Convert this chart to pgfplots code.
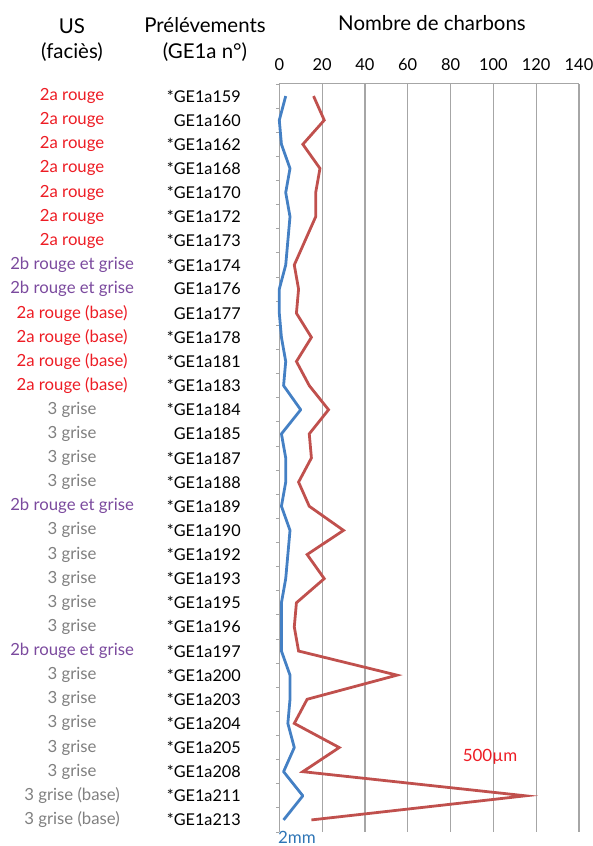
\documentclass[border=0pt]{standalone}
\usepackage{pgfplots}
\pgfplotsset{compat=1.18}
\usepackage{fontspec}
\setmainfont{Lato}
\definecolor{lred}{RGB}{237,28,36}
\definecolor{lpurple}{RGB}{123,74,158}
\definecolor{lgray}{RGB}{128,128,128}
\definecolor{sred}{RGB}{192,80,77}
\definecolor{sblue}{RGB}{68,128,196}
\definecolor{gridc}{RGB}{166,166,166}
\definecolor{tblue}{RGB}{46,117,182}
\newcommand{\US}[3]{\node[anchor=center,text=#2,font=\fontsize{16.8}{18}\selectfont] at (axis cs:-96.8,#1) {#3};}
\newcommand{\PR}[2]{\node[anchor=east,inner sep=0pt,text=black,font=\fontsize{16.3}{18}\selectfont] at (axis cs:-17.9,#1) {#2};}
\begin{document}
\begin{tikzpicture}
\path[use as bounding box] (0,0) rectangle (593bp,846bp);
\begin{axis}[
  at={(279.3bp,14bp)}, anchor=south west,
  scale only axis, width=299.7bp, height=748bp,
  xmin=0, xmax=140, ymin=0.5, ymax=31.5,
  clip=false,
  axis x line*=top, axis y line*=left,
  axis line style={draw=gridc, line width=1pt, -},
  xtick={0,20,...,140},
  xmajorgrids, grid style={gridc, line width=1.2pt},
  ytick={0.5,1.5,...,31.5}, yticklabels={},
  tick align=outside,
  x tick style={draw=none},
  y tick style={draw=gridc, line width=0.8pt},
  major tick length=3.5bp,
  /pgf/number format/assume math mode=true,
  xticklabel style={font=\fontsize{16.5}{18}\selectfont, text=black, yshift=6bp},
]
\addplot[sred, line width=2.8pt, line join=miter] coordinates {
(16,31) (21,30) (11,29) (19,28) (17,27) (17,26) (12,25) (7,24) (9,23) (8,22)
(15,21) (8,20) (14,19) (23,18) (14,17) (15,16) (9,15) (14,14) (30,13) (13,12)
(21,11) (8,10) (7,9) (9,8) (55,7) (13,6) (7,5) (28,4) (11,3) (115,2) (15,1)};
\addplot[sblue, line width=2.8pt, line join=round] coordinates {
(3,31) (0,30) (1,29) (5,28) (3,27) (5,26) (4,25) (3,24) (0,23) (0,22)
(1,21) (3,20) (2,19) (10,18) (1,17) (3,16) (3,15) (1,14) (5,13) (4,12)
(3,11) (1,10) (1,9) (1,8) (5,7) (5,6) (4,5) (7,4) (2,3) (11,2) (2,1)};
\US{31}{lred}{2a rouge}\PR{31}{*GE1a159}
\US{30}{lred}{2a rouge}\PR{30}{GE1a160}
\US{29}{lred}{2a rouge}\PR{29}{*GE1a162}
\US{28}{lred}{2a rouge}\PR{28}{*GE1a168}
\US{27}{lred}{2a rouge}\PR{27}{*GE1a170}
\US{26}{lred}{2a rouge}\PR{26}{*GE1a172}
\US{25}{lred}{2a rouge}\PR{25}{*GE1a173}
\US{24}{lpurple}{2b rouge et grise}\PR{24}{*GE1a174}
\US{23}{lpurple}{2b rouge et grise}\PR{23}{GE1a176}
\US{22}{lred}{2a rouge (base)}\PR{22}{GE1a177}
\US{21}{lred}{2a rouge (base)}\PR{21}{*GE1a178}
\US{20}{lred}{2a rouge (base)}\PR{20}{*GE1a181}
\US{19}{lred}{2a rouge (base)}\PR{19}{*GE1a183}
\US{18}{lgray}{3 grise}\PR{18}{*GE1a184}
\US{17}{lgray}{3 grise}\PR{17}{GE1a185}
\US{16}{lgray}{3 grise}\PR{16}{*GE1a187}
\US{15}{lgray}{3 grise}\PR{15}{*GE1a188}
\US{14}{lpurple}{2b rouge et grise}\PR{14}{*GE1a189}
\US{13}{lgray}{3 grise}\PR{13}{*GE1a190}
\US{12}{lgray}{3 grise}\PR{12}{*GE1a192}
\US{11}{lgray}{3 grise}\PR{11}{*GE1a193}
\US{10}{lgray}{3 grise}\PR{10}{*GE1a195}
\US{9}{lgray}{3 grise}\PR{9}{*GE1a196}
\US{8}{lpurple}{2b rouge et grise}\PR{8}{*GE1a197}
\US{7}{lgray}{3 grise}\PR{7}{*GE1a200}
\US{6}{lgray}{3 grise}\PR{6}{*GE1a203}
\US{5}{lgray}{3 grise}\PR{5}{*GE1a204}
\US{4}{lgray}{3 grise}\PR{4}{*GE1a205}
\US{3}{lgray}{3 grise}\PR{3}{*GE1a208}
\US{2}{lgray}{3 grise (base)}\PR{2}{*GE1a211}
\US{1}{lgray}{3 grise (base)}\PR{1}{*GE1a213}
\end{axis}
\node[font=\fontsize{20.5}{22}\selectfont] at (72bp,820bp) {US};
\node[font=\fontsize{20.5}{22}\selectfont] at (72bp,794bp) {(faciès)};
\node[font=\fontsize{20.5}{22}\selectfont] at (205bp,821bp) {Prélévements};
\node[font=\fontsize{20.5}{22}\selectfont] at (205bp,794bp) {(GE1a n°)};
\node[font=\fontsize{20.5}{22}\selectfont] at (432bp,823bp) {Nombre de charbons};
\node[font=\fontsize{17}{18}\selectfont, text=lred] at (490bp,89bp) {500µm};
\node[font=\fontsize{17}{18}\selectfont, text=tblue] at (297bp,9bp) {2mm};
\end{tikzpicture}
\end{document}
